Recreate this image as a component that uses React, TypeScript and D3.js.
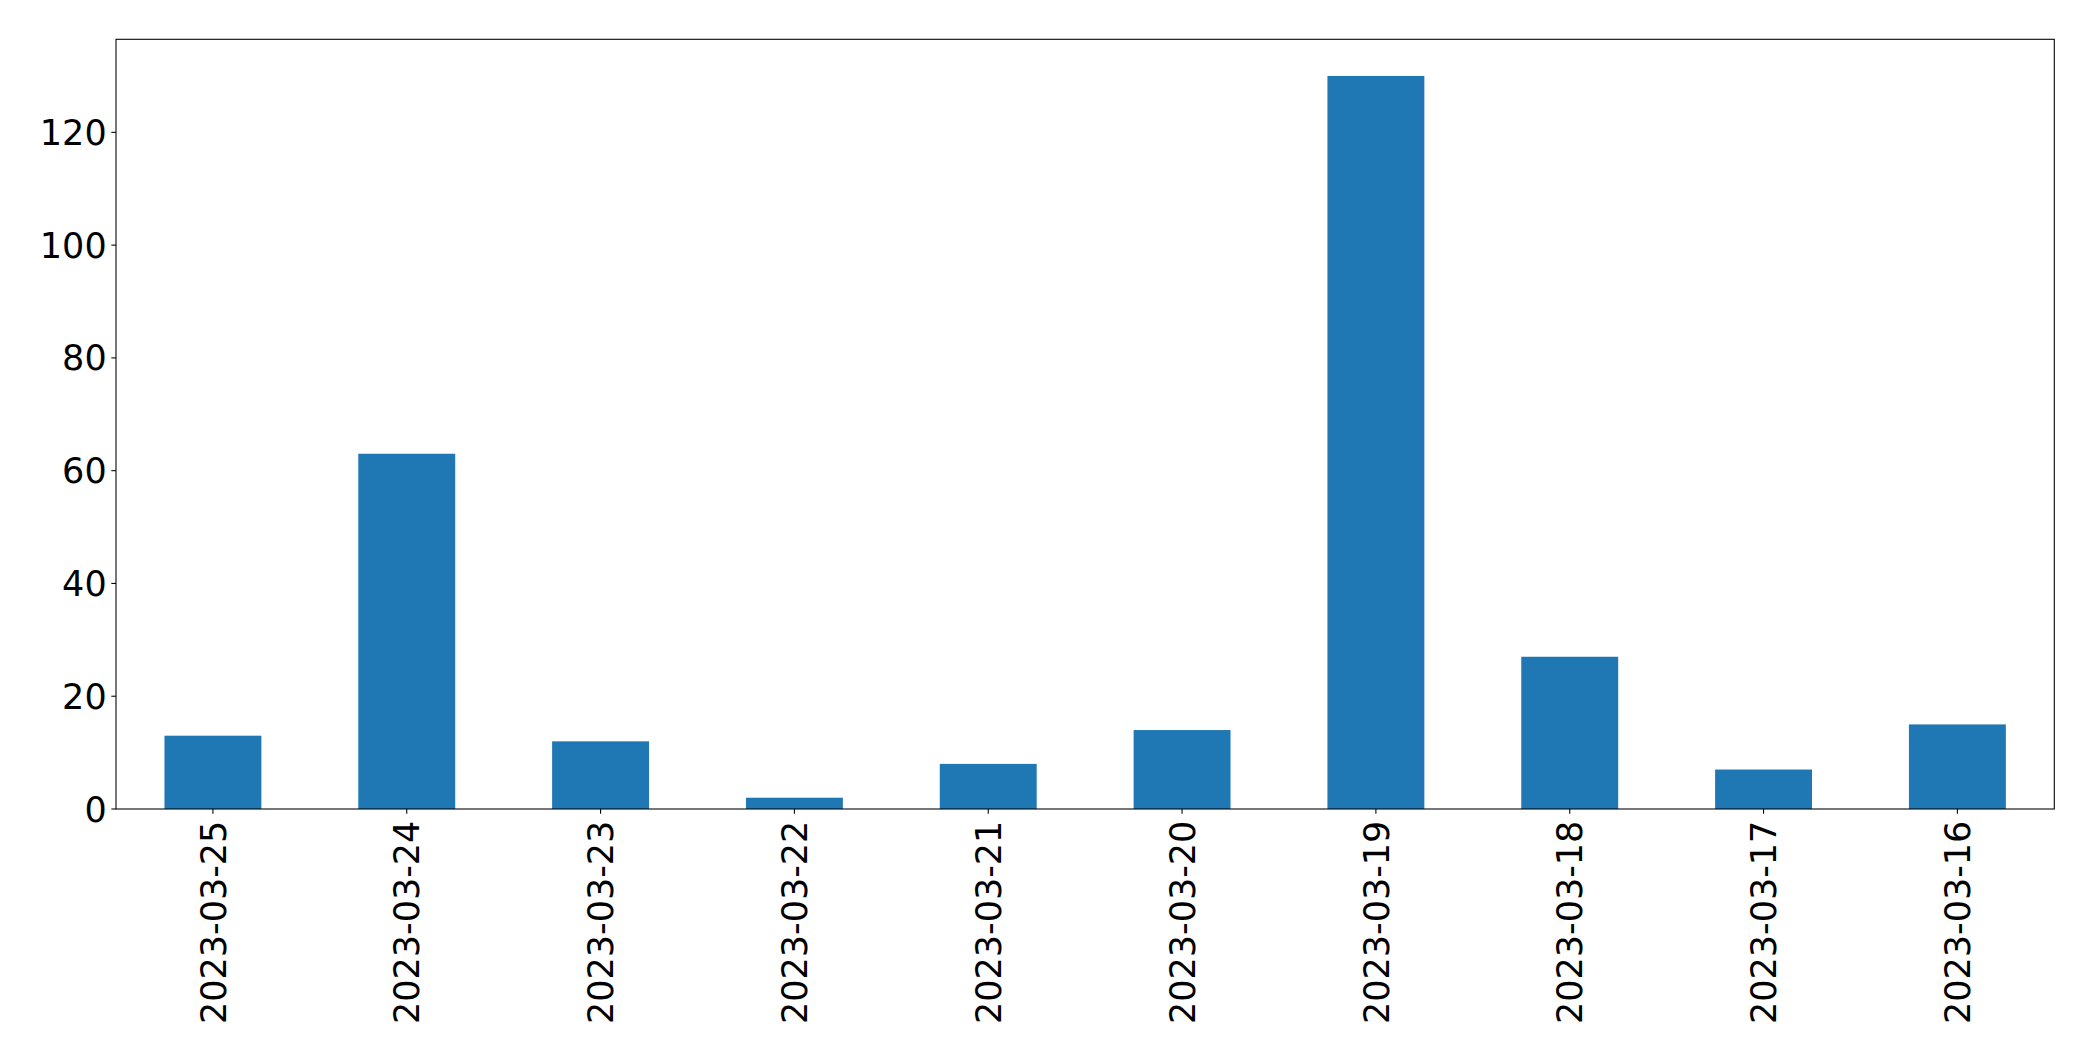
import React from "react";
import * as d3 from "d3";

const categories = ["2023-03-25", "2023-03-24", "2023-03-23", "2023-03-22", "2023-03-21", "2023-03-20", "2023-03-19", "2023-03-18", "2023-03-17", "2023-03-16"];
const values = [13, 63, 12, 2, 8, 14, 130, 27, 7, 15];
const yTicks = [0, 20, 40, 60, 80, 100, 120];

export default function App() {
  const W = 2093, H = 1061;
  const left = 116, right = 2054.3, top = 39.3, bottom = 809;
  const fs = 35;
  const x = d3.scaleLinear().domain([-0.5, categories.length - 0.5]).range([left, right]);
  const y = d3.scaleLinear().domain([0, d3.max(values)! * 1.05]).range([bottom, top]);
  const bw = x(0.25) - x(-0.25);
  const tl = 4.67;
  return (
    <svg width={W} height={H} style={{ position: "absolute", left: 0, top: 0, fontFamily: "DejaVu Sans" }}>
      <rect x={0} y={0} width={W} height={H} fill="#fff" />
      {values.map((v, i) => (
        <rect key={i} x={x(i) - bw / 2} y={y(v)} width={bw} height={y(0) - y(v)} fill="#1f77b4" />
      ))}
      <rect x={left} y={top} width={right - left} height={bottom - top} fill="none" stroke="#000" strokeWidth={1.07} />
      {yTicks.map((t) => (
        <g key={t}>
          <line x1={left - tl} x2={left} y1={y(t)} y2={y(t)} stroke="#000" strokeWidth={1.07} />
          <text x={left - tl - 4.67} y={y(t)} dy="0.36em" textAnchor="end" fontSize={fs}>{t}</text>
        </g>
      ))}
      {categories.map((c, i) => (
        <g key={c}>
          <line x1={x(i)} x2={x(i)} y1={bottom} y2={bottom + tl} stroke="#000" strokeWidth={1.07} />
          <text transform={`translate(${x(i)},${bottom + tl + 7}) rotate(-90)`} dy="0.36em" textAnchor="end" fontSize={fs}>{c}</text>
        </g>
      ))}
    </svg>
  );
}
